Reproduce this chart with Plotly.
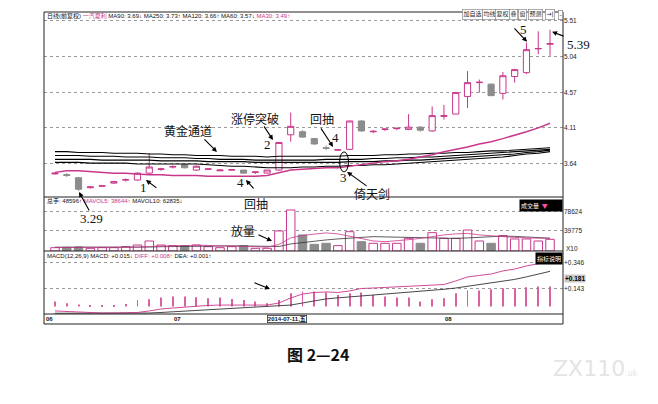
import plotly.graph_objects as go

MAG = "#c8378b"
GREY = "#8c8c8c"

# 一汽夏利 日线 (2014年6月-8月) 每根K线的序号
idx = list(range(43))

opens = [3.51, 3.50, 3.46, 3.33, 3.35, 3.39, 3.43, 3.43, 3.52, 3.57,
         3.60, 3.63, 3.56, 3.57, 3.55, 3.56, 3.56, 3.53, 3.52, 3.56,
         4.02, 4.06, 3.97, 3.85, 3.82, 3.83, 4.20, 4.06, 4.09, 4.10,
         4.09, 4.12, 4.07, 4.26, 4.29, 4.52, 4.70, 4.68, 4.56, 4.78,
         4.83, 5.14, 5.20]
highs = [3.53, 3.52, 3.47, 3.35, 3.36, 3.42, 3.45, 3.53, 3.78, 3.59,
         3.62, 3.64, 3.62, 3.58, 3.57, 3.57, 3.56, 3.54, 3.56, 3.92,
         4.31, 4.08, 3.98, 3.88, 3.83, 4.20, 4.21, 4.08, 4.10, 4.11,
         4.29, 4.13, 4.39, 4.41, 4.58, 4.85, 4.74, 4.69, 4.84, 4.88,
         5.22, 5.37, 5.39]
lows = [3.50, 3.47, 3.29, 3.32, 3.34, 3.38, 3.41, 3.42, 3.51, 3.55,
        3.58, 3.58, 3.55, 3.56, 3.55, 3.55, 3.52, 3.51, 3.52, 3.55,
        3.93, 3.98, 3.89, 3.82, 3.81, 3.82, 4.06, 4.04, 4.07, 4.08,
        4.08, 4.06, 4.06, 4.22, 4.29, 4.37, 4.57, 4.53, 4.48, 4.70,
        4.81, 5.07, 5.05]
closes = [3.52, 3.49, 3.31, 3.34, 3.355, 3.41, 3.435, 3.52, 3.60, 3.575,
          3.605, 3.59, 3.61, 3.575, 3.56, 3.565, 3.52, 3.535, 3.56, 3.92,
          4.13, 3.99, 3.90, 3.845, 3.825, 4.20, 4.07, 4.065, 4.095, 4.105,
          4.12, 4.08, 4.27, 4.27, 4.57, 4.70, 4.705, 4.53, 4.79, 4.87,
          5.13, 5.145, 5.21]

ma30 = [3.53, 3.55, 3.55, 3.54, 3.53, 3.52, 3.52, 3.51, 3.50, 3.50,
        3.49, 3.49, 3.49, 3.48, 3.48, 3.48, 3.48, 3.48, 3.49, 3.52,
        3.56, 3.57, 3.58, 3.59, 3.59, 3.61, 3.63, 3.65, 3.67, 3.68,
        3.70, 3.73, 3.76, 3.80, 3.83, 3.86, 3.90, 3.93, 3.97, 4.01,
        4.06, 4.11, 4.17]
ma250 = [3.80, 3.80, 3.79, 3.79, 3.79, 3.78, 3.78, 3.78, 3.77, 3.77,
         3.76, 3.76, 3.75, 3.75, 3.75, 3.74, 3.74, 3.74, 3.73, 3.74,
         3.74, 3.74, 3.74, 3.74, 3.74, 3.75, 3.75, 3.75, 3.76, 3.76,
         3.77, 3.77, 3.78, 3.78, 3.79, 3.79, 3.80, 3.81, 3.81, 3.82,
         3.83, 3.84, 3.85]
ma90 = [3.75, 3.75, 3.75, 3.74, 3.74, 3.74, 3.73, 3.73, 3.73, 3.72,
        3.72, 3.72, 3.71, 3.71, 3.70, 3.70, 3.70, 3.69, 3.69, 3.69,
        3.69, 3.69, 3.69, 3.70, 3.70, 3.70, 3.70, 3.71, 3.71, 3.72,
        3.72, 3.73, 3.73, 3.74, 3.75, 3.76, 3.77, 3.78, 3.79, 3.80,
        3.81, 3.82, 3.83]
ma120 = [3.70, 3.70, 3.70, 3.70, 3.69, 3.69, 3.69, 3.69, 3.69, 3.68,
         3.68, 3.68, 3.68, 3.67, 3.67, 3.67, 3.67, 3.66, 3.66, 3.66,
         3.66, 3.66, 3.66, 3.66, 3.66, 3.67, 3.67, 3.67, 3.68, 3.68,
         3.69, 3.69, 3.70, 3.71, 3.72, 3.73, 3.74, 3.75, 3.76, 3.77,
         3.79, 3.80, 3.82]
ma60 = [3.66, 3.66, 3.66, 3.65, 3.65, 3.65, 3.65, 3.64, 3.64, 3.64,
        3.64, 3.64, 3.64, 3.63, 3.62, 3.61, 3.61, 3.60, 3.59, 3.59,
        3.59, 3.60, 3.60, 3.61, 3.61, 3.62, 3.62, 3.63, 3.63, 3.64,
        3.65, 3.66, 3.67, 3.68, 3.69, 3.70, 3.71, 3.72, 3.73, 3.75,
        3.77, 3.78, 3.80]

volume = [6600, 7300, 8000, 5300, 6600, 6600, 8600, 11900, 19900, 11900,
          10600, 10600, 11900, 8600, 6600, 8600, 10600, 5300, 5300, 39800,
          81500, 31800, 13300, 15300, 10600, 38400, 18500, 15300, 15300, 15300,
          25200, 15300, 36400, 25200, 25200, 41700, 19900, 15300, 30500, 23900,
          23900, 19900, 23200]
mavol5 = [7000, 7000, 7000, 7000, 6800, 6800, 7000, 7500, 9000, 10000,
          10500, 11000, 11500, 11000, 10000, 9500, 9000, 8500, 7500, 13000,
          26000, 31000, 34000, 36000, 34000, 29000, 24000, 20000, 18500, 20000,
          22500, 25000, 29000, 32000, 34000, 35000, 32000, 30000, 28500, 27000,
          26000, 25500, 25000]
mavol10 = [7500, 7500, 7400, 7300, 7200, 7100, 7000, 7200, 7800, 8500,
           9000, 9500, 10000, 10300, 10500, 10200, 10000, 9500, 9000, 9000,
           14000, 17000, 20000, 22000, 24000, 26000, 28000, 28500, 28000, 27500,
           26500, 26000, 25500, 25000, 25000, 26000, 27000, 28000, 29500, 29000,
           28000, 27000, 25500]

diff = [-0.034, -0.038, -0.046, -0.050, -0.050, -0.050, -0.050, -0.046, -0.034, -0.019,
        -0.011, -0.003, 0.005, 0.009, 0.012, 0.012, 0.016, 0.012, 0.012, 0.028,
        0.067, 0.098, 0.110, 0.114, 0.110, 0.122, 0.141, 0.145, 0.149, 0.153,
        0.157, 0.161, 0.165, 0.172, 0.200, 0.231, 0.243, 0.254, 0.278, 0.293,
        0.317, 0.336, 0.352]
dea = [-0.052, -0.052, -0.052, -0.053, -0.053, -0.053, -0.053, -0.052, -0.050, -0.046,
       -0.041, -0.036, -0.031, -0.025, -0.020, -0.015, -0.010, -0.006, -0.003, 0.002,
       0.012, 0.028, 0.045, 0.060, 0.068, 0.075, 0.085, 0.093, 0.100, 0.108,
       0.116, 0.122, 0.128, 0.135, 0.145, 0.158, 0.170, 0.183, 0.196, 0.212,
       0.232, 0.255, 0.275]
macd = [0.039, 0.026, 0.016, 0.008, 0.008, 0.008, 0.020, 0.052, 0.057, 0.070,
        0.078, 0.078, 0.073, 0.065, 0.070, 0.060, 0.052, 0.039, 0.026, 0.052,
        0.104, 0.117, 0.117, 0.109, 0.091, 0.104, 0.109, 0.091, 0.078, 0.070,
        0.070, 0.039, 0.057, 0.065, 0.104, 0.125, 0.125, 0.135, 0.143, 0.143,
        0.151, 0.156, 0.156]

price_ticks = [3.64, 4.11, 4.57, 5.04, 5.51]
vol_ticks = [39775, 78624]
macd_ticks = [0.143, 0.346]
month_labels = ["06", "07", "08"]
month_pos = [-0.93, 9.9, 32.9]

up = [c >= o for o, c in zip(opens, closes)]

fig = go.Figure()

fig.add_trace(go.Candlestick(
    x=idx, open=opens, high=highs, low=lows, close=closes,
    increasing=dict(line=dict(color=MAG, width=1), fillcolor="white"),
    decreasing=dict(line=dict(color=GREY, width=1), fillcolor=GREY),
    whiskerwidth=0, hoverinfo="skip", xaxis="x", yaxis="y"))

for ma in [ma250, ma90, ma120, ma60]:
    fig.add_trace(go.Scatter(x=idx, y=ma, mode="lines", line=dict(color="black", width=1.1),
                             hoverinfo="skip", xaxis="x", yaxis="y"))
fig.add_trace(go.Scatter(x=idx, y=ma30, mode="lines", line=dict(color=MAG, width=1.5),
                         hoverinfo="skip", xaxis="x", yaxis="y"))

fig.add_trace(go.Bar(
    x=idx, y=volume, width=0.72,
    marker=dict(color=["white" if u else GREY for u in up],
                line=dict(color=[MAG if u else GREY for u in up], width=1)),
    hoverinfo="skip", xaxis="x", yaxis="y2"))
fig.add_trace(go.Scatter(x=idx, y=mavol10, mode="lines", line=dict(color="#333333", width=0.8),
                         hoverinfo="skip", xaxis="x", yaxis="y2"))
fig.add_trace(go.Scatter(x=idx, y=mavol5, mode="lines", line=dict(color=MAG, width=0.8),
                         hoverinfo="skip", xaxis="x", yaxis="y2"))

fig.add_trace(go.Bar(x=idx, y=macd, width=0.08, marker=dict(color="#d9619f", line=dict(width=0)),
                     hoverinfo="skip", xaxis="x", yaxis="y3"))
fig.add_trace(go.Scatter(x=idx, y=dea, mode="lines", line=dict(color="#333333", width=0.9),
                         hoverinfo="skip", xaxis="x", yaxis="y3"))
fig.add_trace(go.Scatter(x=idx, y=diff, mode="lines", line=dict(color=MAG, width=0.9),
                         hoverinfo="skip", xaxis="x", yaxis="y3"))

tickfont = dict(family="Liberation Sans", size=6.5, color="#222222")
grid = dict(showgrid=True, gridcolor="#9a9a9a", griddash="dot", gridwidth=1, zeroline=False,
            side="right", ticks="", tickfont=tickfont, anchor="x", fixedrange=True)

cjk = "Noto Sans CJK SC"
hdr = dict(family="Liberation Sans, " + cjk, size=6, color="#111111")
note = dict(family=cjk, size=12, color="#111111")
num = dict(family="Liberation Serif", size=13, color="#111111")

ann = []
# 顶部信息栏
ann.append(dict(xref="paper", yref="paper", x=0.002, y=0.987, xanchor="left", yanchor="middle",
                showarrow=False, font=hdr,
                text="日线(前复权) <span style='color:%s'>一汽夏利</span> MA90: 3.69↓ MA250: 3.73↑ "
                     "MA120: 3.66↑ MA60: 3.57↓ <span style='color:%s'>MA30: 3.49↑</span>" % (MAG, MAG)))
btns = ["加自选", "均线", "复权", "叠", "窗", "预测", "→|", "-"]
btn_x = [472, 489, 502, 513.5, 522.5, 535, 550, 560.5]
for b, bx in zip(btns, btn_x):
    ann.append(dict(xref="paper", yref="paper", x=(bx - 44) / 519, y=(324 - 15) / 312,
                    xanchor="center", yanchor="middle", showarrow=False, text=b,
                    font=dict(family="DejaVu Sans, " + cjk, size=6, color="#222222"),
                    bordercolor="#777777", borderwidth=0.6, borderpad=0.8, bgcolor="white"))
ann.append(dict(xref="paper", yref="paper", x=0.002, y=(324 - 201) / 312, xanchor="left",
                yanchor="middle", showarrow=False, font=hdr,
                text="总手: 48596↑ <span style='color:%s'>MAVOL5: 38644↑</span> MAVOL10: 62835↓" % MAG))
ann.append(dict(xref="paper", yref="paper", x=0.002, y=(324 - 256) / 312, xanchor="left",
                yanchor="middle", showarrow=False, font=hdr,
                text="MACD(12,26,9) MACD: +0.015↓ <span style='color:%s'>DIFF: +0.008↑</span> DEA: +0.001↑" % MAG))
ann.append(dict(xref="paper", yref="paper", x=1, y=(324 - 199) / 312, xanchor="right", yanchor="top",
                showarrow=False, bgcolor="black", width=40, align="left",
                font=dict(family=cjk, size=6, color="white"),
                text="成交量  <span style='color:#ff4da6'>▼</span>"))
ann.append(dict(xref="paper", yref="paper", x=1, y=(324 - 252) / 312, xanchor="right", yanchor="top",
                showarrow=False, bgcolor="black", font=dict(family=cjk, size=6, color="white"),
                text="指标说明"))
ann.append(dict(xref="paper", yref="paper", x=1.002, y=(324 - 248) / 312, xanchor="left",
                yanchor="middle", showarrow=False, font=tickfont, text="X10"))
ann.append(dict(xref="paper", yref="y3", x=1.002, y=0.181, xanchor="left", yanchor="bottom",
                showarrow=False, bgcolor="#c8c8c8", borderpad=0,
                font=dict(family="Liberation Sans", size=6.5, color="black"), text="<b>+0.181</b>"))
# 月份与日期
for m, p in zip(month_labels, month_pos):
    ann.append(dict(xref="x", yref="paper", x=p, y=0.016, xanchor="left", yanchor="middle",
                    showarrow=False, font=dict(family="Liberation Sans", size=6, color="#111111"),
                    text="<b>%s</b>" % m))
ann.append(dict(xref="x", yref="paper", x=18, y=0.016, xanchor="left", yanchor="middle",
                showarrow=False, bordercolor="#333333", borderwidth=0.8, borderpad=0, bgcolor="white",
                font=dict(family="Liberation Sans, " + cjk, size=6, color="#111111"),
                text="<b>2014-07-11,五</b>"))

# 图中标注
def label(x, y, t, f, yref="y", xref="x"):
    ann.append(dict(xref=xref, yref=yref, x=x, y=y, text=t, showarrow=False, font=f,
                    xanchor="center", yanchor="middle"))

def arrow(x, y, ax, ay, yref="y"):
    ann.append(dict(xref="x", yref=yref, x=x, y=y, ax=ax, ay=ay, text="", showarrow=True,
                    arrowhead=2, arrowsize=0.9, arrowwidth=1.1, arrowcolor="black"))

label(11.28, 4.071, "黄金通道", note)
arrow(13.74, 3.797, -14, -14)
label(16.97, 4.228, "涨停突破", note)
label(17.99, 3.888, "2", num)
arrow(18.5, 3.953, -10, -15)
label(7.47, 3.327, "1", num)
arrow(7.72, 3.431, 12, 9)
label(15.7, 3.392, "4", num)
arrow(16.2, 3.431, 9, 10)
label(17.05, (324 - 203) / 312, "回抽", note, yref="paper")
label(3.14, (324 - 218) / 312, "3.29", num, yref="paper")
arrow(2.04, 3.274, 11, 20)
label(15.95, 39760, "放量", note, yref="y2")
arrow(18.41, 19880, -15, -7, yref="y2")
label(22.65, 4.228, "回抽", note)
arrow(23.59, 3.862, -13, -20)
label(23.84, 3.980, "4", num)
label(24.44, 3.457, "3", num)
label(26.9, 3.261, "倚天剑", note)
arrow(24.78, 3.536, 21, 15)
label(39.71, 5.39, "5", num)
arrow(40.05, 5.233, -14, -15)
label(1.029, 5.194, "5.39", num, xref="paper")
arrow(42.17, 5.364, 13, 5)
arrow(18.24, 0.137, -17, -7, yref="y3")

# 图题与水印
ann.append(dict(xref="paper", yref="paper", x=0.528, y=-0.14, showarrow=False,
                text="<b>图 2—24</b>", font=dict(family=cjk, size=16, color="#111111")))
ann.append(dict(xref="paper", yref="paper", x=(640 - 44) / 519, y=-0.19, xanchor="right",
                showarrow=False, text="ZX110<span style='font-size:8px'>.uk</span>",
                font=dict(family="DejaVu Sans", size=22, color="#e4e4e4")))

shapes = [
    dict(type="rect", xref="paper", yref="paper", x0=0, x1=1, y0=0, y1=1,
         line=dict(color="#222222", width=1)),
    dict(type="circle", xref="x", yref="y", x0=24.15, x1=24.9, y0=3.536, y1=3.797,
         line=dict(color="black", width=1)),
]
for yp in [0.4071, 0.234, 0.0321]:
    shapes.append(dict(type="line", xref="paper", yref="paper", x0=0, x1=1, y0=yp, y1=yp,
                       line=dict(color="#222222", width=1.2)))

# 页面自带 8px 边距，图面尺寸相应缩小
fig.update_layout(
    width=650, height=396, margin=dict(l=36, r=95, t=4, b=80),
    paper_bgcolor="white", plot_bgcolor="white", showlegend=False,
    barmode="overlay", boxgap=0.25,
    xaxis=dict(range=[-0.93, 43.1], showgrid=False, showticklabels=False, zeroline=False,
               anchor="y3", rangeslider=dict(visible=False), fixedrange=True),
    yaxis=dict(domain=[0.4071, 1], range=[3.209, 5.621], tickvals=price_ticks,
               ticktext=["%.2f" % v for v in price_ticks], **grid),
    yaxis2=dict(domain=[0.234, 0.4071], range=[0, 107350], tickvals=vol_ticks,
                ticktext=[str(v) for v in vol_ticks], **grid),
    yaxis3=dict(domain=[0.0321, 0.234], range=[-0.0577, 0.4337], tickvals=macd_ticks,
                ticktext=["+%.3f" % v for v in macd_ticks], **grid),
    annotations=ann, shapes=shapes,
)

fig.write_html("out.html")
